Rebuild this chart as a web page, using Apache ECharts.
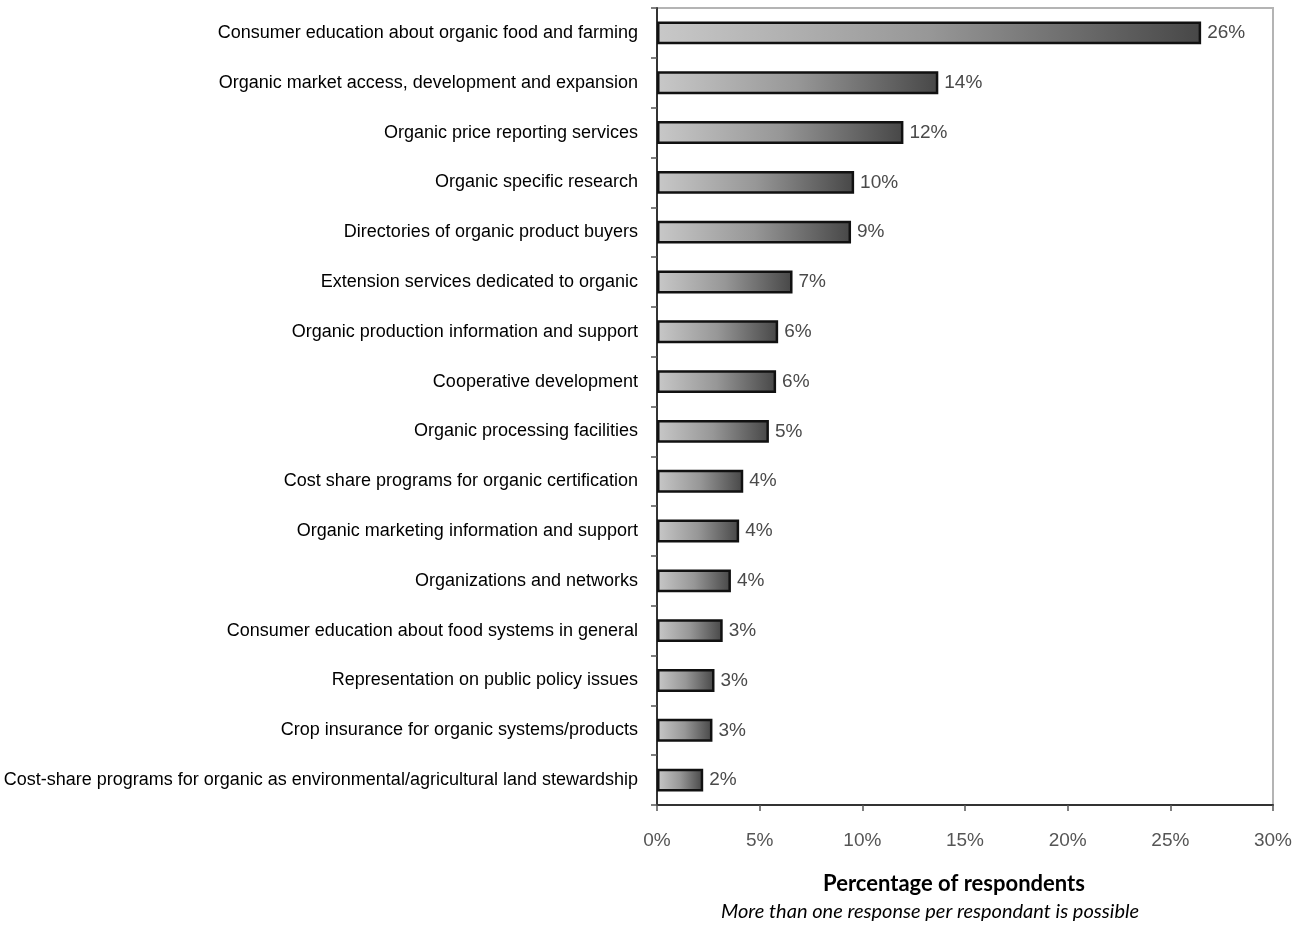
<!DOCTYPE html>
<html>
<head>
<meta charset="utf-8">
<script src="https://cdn.jsdelivr.net/npm/echarts@6/dist/echarts.min.js"></script>
<style>
html,body{margin:0;padding:0;background:#fff;}
#chart{width:1302px;height:928px;}
</style>
</head>
<body>
<div id="chart"></div>
<script>
const categories = [
  "Consumer education about organic food and farming",
  "Organic market access, development and expansion",
  "Organic price reporting services",
  "Organic specific research",
  "Directories of organic product buyers",
  "Extension services dedicated to organic",
  "Organic production information and support",
  "Cooperative development",
  "Organic processing facilities",
  "Cost share programs for organic certification",
  "Organic marketing information and support",
  "Organizations and networks",
  "Consumer education about food systems in general",
  "Representation on public policy issues",
  "Crop insurance for organic systems/products",
  "Cost-share programs for organic as environmental/agricultural land stewardship"
];
const values = [26.5, 13.7, 12.0, 9.6, 9.45, 6.6, 5.9, 5.8, 5.45, 4.2, 4.0, 3.6, 3.2, 2.8, 2.7, 2.25];
const valueLabels = ["26%","14%","12%","10%","9%","7%","6%","6%","5%","4%","4%","4%","3%","3%","3%","2%"];
const xTicks = [0, 5, 10, 15, 20, 25, 30];
const axisTitle = "Percentage of respondents";
const axisNote = "More than one response per respondant is possible";

const narrow = '"Liberation Sans Narrow", "Arial Narrow", "Liberation Sans", Arial, sans-serif';
const chart = echarts.init(document.getElementById('chart'), null, {renderer: 'canvas'});
chart.setOption({
  animation: false,
  backgroundColor: '#ffffff',
  grid: {
    left: 657, right: 29, top: 8, bottom: 123,
    show: true, borderColor: '#b4b4b4', borderWidth: 2, backgroundColor: 'transparent'
  },
  xAxis: {
    type: 'value',
    min: xTicks[0], max: xTicks[xTicks.length - 1], interval: 5,
    axisLine: {show: true, lineStyle: {color: '#333', width: 2}},
    axisTick: {show: true, length: 6, lineStyle: {color: '#555', width: 1.5}},
    splitLine: {show: false},
    axisLabel: {
      formatter: '{value}%', color: '#555', fontSize: 19,
      fontFamily: narrow, margin: 26
    }
  },
  yAxis: {
    type: 'category',
    data: categories,
    inverse: true,
    axisLine: {show: true, lineStyle: {color: '#333', width: 2}},
    axisTick: {show: true, length: 6, alignWithLabel: false, lineStyle: {color: '#555', width: 1.5}},
    axisLabel: {color: '#000', fontSize: 18, fontFamily: narrow, margin: 19}
  },
  series: [{
    type: 'bar',
    data: values.map((v, i) => ({value: v, label: {formatter: valueLabels[i]}})),
    barWidth: '46%',
    itemStyle: {
      borderColor: '#111',
      borderWidth: 2.5,
      color: new echarts.graphic.LinearGradient(0, 0, 1, 0, [
        {offset: 0, color: '#c8c8c8'},
        {offset: 0.5, color: '#979797'},
        {offset: 1, color: '#474747'}
      ])
    },
    label: {
      show: true, position: 'right', distance: 6,
      color: '#4a4a4a', fontSize: 19, fontFamily: narrow
    }
  }],
  graphic: [
    {
      type: 'text', x: 954, y: 884,
      style: {text: axisTitle, fill: '#000', font: 'bold 22px Lato, "Open Sans", sans-serif',
              textAlign: 'center', textVerticalAlign: 'middle'}
    },
    {
      type: 'text', x: 930, y: 912,
      style: {text: axisNote, fill: '#000', font: 'italic 20px Lato, "Open Sans", sans-serif',
              textAlign: 'center', textVerticalAlign: 'middle'}
    }
  ]
});
</script>
</body>
</html>
